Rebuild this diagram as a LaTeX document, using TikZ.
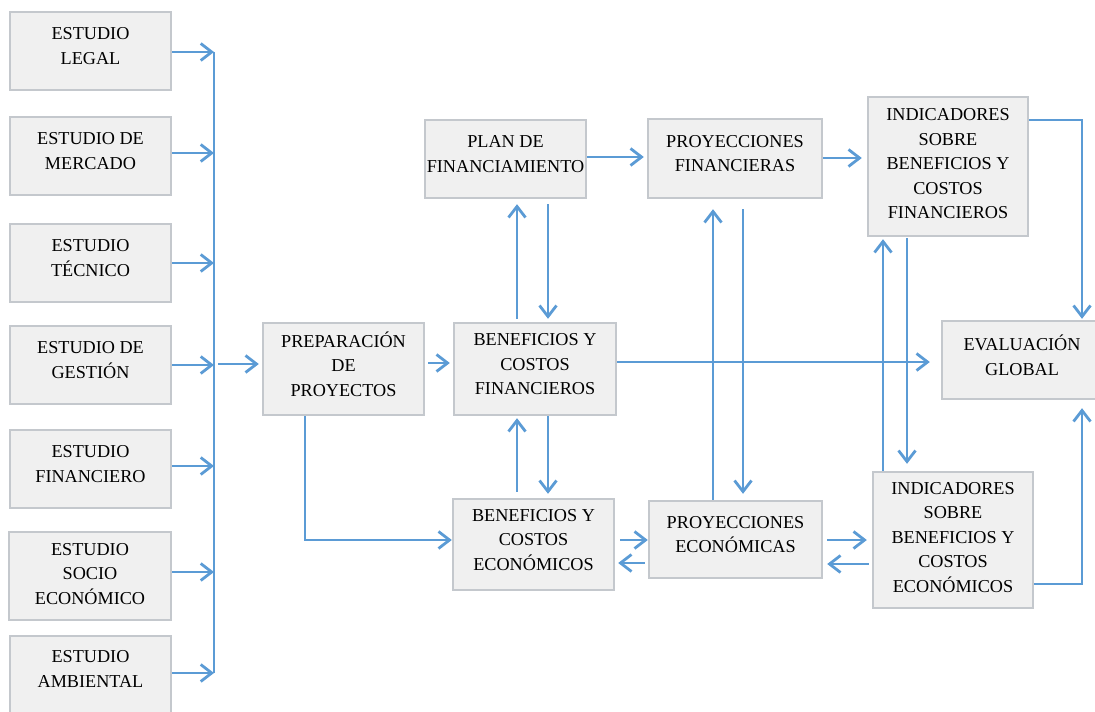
\documentclass[tikz,border=0pt]{standalone}
\usepackage{fontspec}
\setmainfont{Liberation Serif}
\usetikzlibrary{arrows.meta}
\definecolor{lnblue}{RGB}{91,155,213}
\definecolor{bxfill}{RGB}{240,240,240}
\definecolor{bxdraw}{RGB}{196,200,205}
\begin{document}
\begin{tikzpicture}[x=0.5pt,y=-0.5pt,
  box/.style={draw=bxdraw, line width=1.2pt, fill=bxfill, align=center, inner sep=0pt,
    text depth=5pt, font=\fontsize{9.1}{12.25}\selectfont},
  wire/.style={draw=lnblue, line width=1.4pt},
  arr/.style={wire, -{Straight Barb[length=5.5pt,width=8.5pt,line width=1.4pt]}}]
\useasboundingbox (0,0) rectangle (1095,711);
% left column
\node[box, minimum width=80.5pt, minimum height=39pt] (legal) at (90.5,51) {ESTUDIO\\LEGAL};
\node[box, minimum width=80.5pt, minimum height=39pt] (mercado) at (90.5,156) {ESTUDIO DE\\MERCADO};
\node[box, minimum width=80.5pt, minimum height=39pt] (tecnico) at (90.5,263) {ESTUDIO\\TÉCNICO};
\node[box, minimum width=80.5pt, minimum height=39pt] (gestion) at (90.5,365) {ESTUDIO DE\\GESTIÓN};
\node[box, minimum width=80.5pt, minimum height=39pt] (financiero) at (90.5,469) {ESTUDIO\\FINANCIERO};
\node[box, minimum width=81pt, minimum height=44pt, text depth=2.5pt] (socio) at (90,576) {ESTUDIO\\SOCIO\\ECONÓMICO};
\node[box, minimum width=80.5pt, minimum height=40pt, text depth=7pt] (ambiental) at (90.5,676) {ESTUDIO\\AMBIENTAL};
% middle
\node[box, minimum width=80.5pt, minimum height=46pt] (prep) at (343.5,369) {PREPARACIÓN\\DE\\PROYECTOS};
\node[box, minimum width=81pt, minimum height=46pt] (bcf) at (535,369) {BENEFICIOS Y\\COSTOS\\FINANCIEROS};
\node[box, minimum width=80.5pt, minimum height=39pt] (plan) at (505.5,159) {PLAN DE\\FINANCIAMIENTO};
\node[box, minimum width=87pt, minimum height=39.5pt] (pf) at (735,158.5) {PROYECCIONES\\FINANCIERAS};
\node[box, minimum width=80pt, minimum height=69.5pt, text depth=3pt] (if) at (948,166.5) {INDICADORES\\SOBRE\\BENEFICIOS Y\\COSTOS\\FINANCIEROS};
\node[box, minimum width=80pt, minimum height=39pt] (eval) at (1022,360) {EVALUACIÓN\\GLOBAL};
\node[box, minimum width=80.5pt, minimum height=45.5pt] (bce) at (533.5,544.5) {BENEFICIOS Y\\COSTOS\\ECONÓMICOS};
\node[box, minimum width=86.5pt, minimum height=38.5pt] (pe) at (735.5,539.5) {PROYECCIONES\\ECONÓMICAS};
\node[box, minimum width=80pt, minimum height=68pt, text depth=3pt] (ie) at (953,540) {INDICADORES\\SOBRE\\BENEFICIOS Y\\COSTOS\\ECONÓMICOS};
% bus
\coordinate (busT) at (214,52);
\coordinate (busB) at (214,673);
\coordinate (busM) at (214,364);
\draw[wire] (busT) -- (busB);
\foreach \n/\y in {legal/52, mercado/153, tecnico/263, gestion/365, financiero/466, socio/572, ambiental/673}
  \draw[arr] (\n.east |- 0,\y) -- (busT |- 0,\y);
\draw[arr, shorten <=2pt, shorten >=1.5pt] (busM) -- (prep.west |- busM);
% main flow
\draw[arr, shorten <=1.5pt, shorten >=1.5pt] (prep.east |- 0,363) -- (bcf.west |- 0,363);
\draw[arr, shorten >=5.5pt] (bcf.east |- 0,362) -- (eval.west |- 0,362);
\draw[arr, shorten >=1.5pt] (plan.east |- 0,157) -- (pf.west |- 0,157);
\draw[arr, shorten >=2.5pt] (pf.east |- 0,158) -- (if.west |- 0,158);
% plan <-> bcf
\draw[arr, shorten <=1.5pt, shorten >=2.5pt] (bcf.north -| 517,0) -- (plan.south -| 517,0);
\draw[arr, shorten <=2.5pt, shorten >=1.5pt] (plan.south -| 548,0) -- (bcf.north -| 548,0);
% bcf <-> bce
\draw[arr, shorten <=3pt, shorten >=1pt] (bce.north -| 517,0) -- (bcf.south -| 517,0);
\draw[arr, shorten >=2pt] (bcf.south -| 548,0) -- (bce.north -| 548,0);
% pf <-> pe
\draw[arr, shorten >=5pt] (pe.north -| 713,0) -- (pf.south -| 713,0);
\draw[arr, shorten <=5pt, shorten >=3pt] (pf.south -| 743,0) -- (pe.north -| 743,0);
% if <-> ie
\draw[arr, shorten >=1pt] (ie.north -| 883,0) -- (if.south -| 883,0);
\draw[arr, shorten <=0.5pt, shorten >=3.5pt] (if.south -| 907,0) -- (ie.north -| 907,0);
% prep -> bce
\draw[arr] (prep.south -| 305,0) |- (bce.west |- 0,540);
% bce <-> pe
\draw[arr, shorten <=2.5pt] (bce.east |- 0,540) -- (pe.west |- 0,540);
\draw[arr, shorten <=1.5pt, shorten >=1.5pt] (pe.west |- 0,563) -- (bce.east |- 0,563);
% pe <-> ie
\draw[arr, shorten <=2pt, shorten >=2.5pt] (pe.east |- 0,540) -- (ie.west |- 0,540);
\draw[arr, shorten <=1.5pt, shorten >=2pt] (ie.west |- 0,564) -- (pe.east |- 0,564);
% indicators -> eval
\draw[arr, shorten >=0.5pt] (if.east |- 0,120) -| (eval.north -| 1082,0);
\draw[arr, shorten >=4pt] (ie.east |- 0,584) -| (eval.south -| 1082,0);
\end{tikzpicture}
\end{document}
